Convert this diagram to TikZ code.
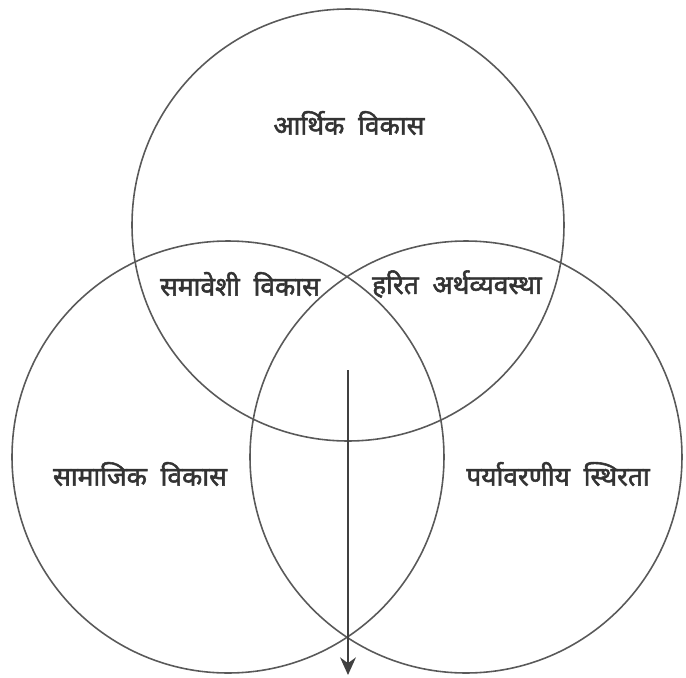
\documentclass[tikz,border=0pt]{standalone}
\usepackage{fontspec}
\newfontfamily\devfont[Script=Devanagari, FakeBold=2]{Noto Sans}
\usepackage{tikz}
\usetikzlibrary{positioning,arrows.meta}

\begin{document}
\begin{tikzpicture}[
  ring/.style={draw=black!65, line width=0.45pt, circle, minimum size=4.32cm, inner sep=0pt},
  lab/.style={font=\devfont\fontsize{7.5}{9}\selectfont, text=black!80, inner sep=1pt},
  arrow/.style={-{Stealth[length=5pt,width=4.5pt]}, line width=0.5pt, black!75}
]
\useasboundingbox (0,0) rectangle (6.86,6.77);
% three circles
\node[ring] (econ) at (3.48,4.52) {};
\node[ring] (soc) at (2.28,2.20) {};
\node[ring] (env) at (4.66,2.20) {};

% labels
\node[lab] (econlab) at (3.49,5.54) {आर्थिक\ \ विकास};
\node[lab] (inclab) at (2.40,3.93) {समावेशी\ \ विकास};
\node[lab] (greenlab) at (4.57,3.93) {हरित\ \ अर्थव्यवस्था};
\node[lab] (soclab) at (1.40,2.03) {सामाजिक\ \ विकास};
\node[lab] (envlab) at (5.58,2.03) {पर्यावरणीय\ \ स्थिरता};

% arrow through the centre
\coordinate (start) at (3.48,3.07);
\coordinate (end) at (3.48,0.02);
\draw[arrow] (start) -- (end);
\end{tikzpicture}
\end{document}
